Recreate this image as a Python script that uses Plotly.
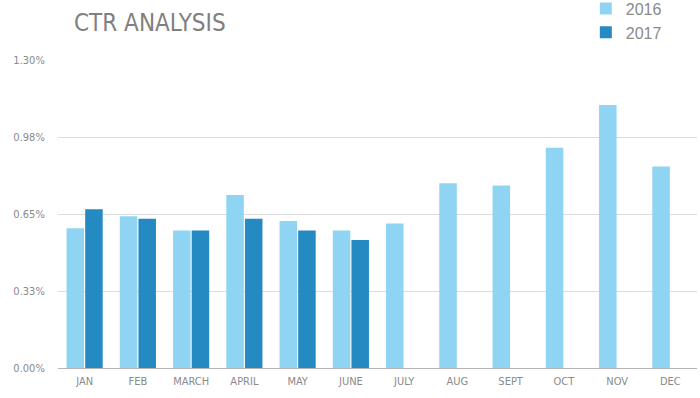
import plotly.graph_objects as go

months = ["JAN", "FEB", "MARCH", "APRIL", "MAY", "JUNE", "JULY", "AUG", "SEPT", "OCT", "NOV", "DEC"]
ctr_2016 = [0.59, 0.64, 0.58, 0.73, 0.62, 0.58, 0.61, 0.78, 0.77, 0.93, 1.11, 0.85]
ctr_2017 = [0.67, 0.63, 0.58, 0.63, 0.58, 0.54, None, None, None, None, None, None]
tick_vals = [0, 0.325, 0.65, 0.975, 1.3]
tick_text = ["0.00%", "0.33%", "0.65%", "0.98%", "1.30%"]

cond = "DejaVu Sans Condensed, Liberation Sans Narrow, sans-serif"
gray = "#8a8a8a"

fig = go.Figure()
fig.add_trace(go.Bar(name="2016", x=months, y=ctr_2016, marker_color="#8fd5f3", marker_line_width=0))
fig.add_trace(go.Bar(name="2017", x=months, y=ctr_2017, marker_color="#2589c2", marker_line_width=0))

fig.update_layout(
    width=700, height=398,
    margin=dict(l=58, r=3, t=60, b=30, autoexpand=False),
    paper_bgcolor="white", plot_bgcolor="white",
    barmode="group", bargap=0.3, bargroupgap=0.06,
    showlegend=True,
    legend=dict(x=0.826, y=1.222, xanchor="left", yanchor="top",
                font=dict(family="Liberation Sans, Arial, sans-serif", size=16, color=gray),
                bgcolor="rgba(0,0,0,0)", tracegroupgap=0, itemwidth=30),
)
fig.add_annotation(text="CTR ANALYSIS", xref="paper", yref="paper",
                   x=(72 - 58) / 639, y=1 + (60 - 23) / 308, xanchor="left", yanchor="middle",
                   showarrow=False,
                   font=dict(family=cond, size=24, color="#808080"))

tf = dict(family=cond, size=11, color=gray)
fig.update_xaxes(showgrid=False, showline=True, linecolor="#b5b5b5", linewidth=1,
                 tickfont=tf, ticks="outside", ticklen=3, tickcolor="white")
fig.update_yaxes(range=[0, 1.3], tickvals=tick_vals, ticktext=tick_text,
                 showgrid=True, gridcolor="#dcdcdc", gridwidth=1, zeroline=False,
                 tickfont=tf, ticks="outside",
                 ticklen=10, tickcolor="white", showline=False)

fig.write_html("out.html", config={"displayModeBar": False},
               post_script="document.body.style.margin='0';")
